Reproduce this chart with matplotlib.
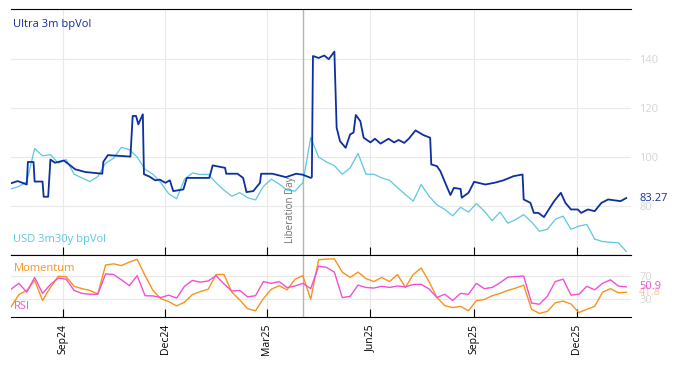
"""
Ultra 3m bpVol vs USD 3m30y bpVol with Momentum / RSI sub-panel.
"""

import matplotlib
import matplotlib.dates as mdates
import matplotlib.pyplot as plt
import pandas as pd

matplotlib.use("Agg")

plt.rcParams["font.family"] = ["Open Sans", "DejaVu Sans"]

# --- Data ---

# Ultra 3m bpVol (step-like series, vertices)
ULTRA_DATES = [
    "2024-07-17", "2024-07-23", "2024-07-27", "2024-07-31", "2024-08-01", "2024-08-06",
    "2024-08-07", "2024-08-14", "2024-08-15", "2024-08-19", "2024-08-21", "2024-08-25",
    "2024-09-02", "2024-09-12", "2024-09-21", "2024-10-06", "2024-10-07", "2024-10-11",
    "2024-10-31", "2024-11-02", "2024-11-05", "2024-11-07", "2024-11-11", "2024-11-12",
    "2024-11-17", "2024-11-22", "2024-11-26", "2024-12-01", "2024-12-05", "2024-12-08",
    "2024-12-17", "2024-12-20", "2025-01-09", "2025-01-12", "2025-01-23", "2025-01-24",
    "2025-02-03", "2025-02-08", "2025-02-11", "2025-02-17", "2025-02-23", "2025-02-24",
    "2025-03-06", "2025-03-12", "2025-03-18", "2025-03-27", "2025-04-02", "2025-04-09",
    "2025-04-10", "2025-04-11", "2025-04-16", "2025-04-21", "2025-04-25", "2025-04-30",
    "2025-05-02", "2025-05-05", "2025-05-10", "2025-05-14", "2025-05-17", "2025-05-19",
    "2025-05-23", "2025-05-26", "2025-06-01", "2025-06-05", "2025-06-10", "2025-06-17",
    "2025-06-22", "2025-06-26", "2025-07-01", "2025-07-05", "2025-07-11", "2025-07-18",
    "2025-07-24", "2025-07-25", "2025-07-30", "2025-08-02", "2025-08-07", "2025-08-11",
    "2025-08-14", "2025-08-20", "2025-08-21", "2025-08-27", "2025-09-01", "2025-09-11",
    "2025-09-19", "2025-09-27", "2025-10-06", "2025-10-14", "2025-10-15", "2025-10-21",
    "2025-10-24", "2025-10-28", "2025-11-02", "2025-11-11", "2025-11-17", "2025-11-21",
    "2025-11-26", "2025-12-02", "2025-12-05", "2025-12-11", "2025-12-17", "2025-12-23",
    "2025-12-29", "2026-01-04", "2026-01-09", "2026-01-14",
]
ULTRA_VOL = [
    89.3, 90.2, 89.5, 88.8, 98.0, 98.0,
    90.0, 90.0, 83.8, 83.8, 99.0, 97.7,
    98.6, 95.0, 93.9, 93.2, 98.1, 100.8,
    100.2, 116.8, 116.8, 113.4, 117.5, 93.0,
    92.0, 90.5, 90.8, 89.5, 90.5, 86.1,
    86.8, 91.5, 91.5, 96.6, 95.6, 93.2,
    93.2, 91.5, 85.7, 86.1, 89.5, 93.2,
    93.2, 92.5, 91.8, 93.2, 92.8, 91.5,
    91.8, 141.3, 140.5, 141.5, 140.0, 143.1,
    112.0, 106.5, 103.8, 109.3, 110.0, 117.2,
    114.7, 107.9, 106.0, 107.5, 105.5, 107.5,
    106.0, 107.0, 105.8, 107.5, 110.9, 109.0,
    107.9, 97.0, 96.3, 94.3, 88.8, 84.5,
    87.4, 87.0, 83.4, 85.4, 89.9, 88.8,
    89.5, 90.5, 92.2, 92.9, 82.7, 81.3,
    77.2, 77.2, 75.5, 82.0, 85.4, 81.3,
    78.6, 78.6, 77.2, 78.6, 77.9, 81.3,
    82.7, 82.3, 82.0, 83.27,
]

# Weekly observations for the other series
WEEK_START = "2024-07-17"
N_WEEKS = 79

USD_VOL = [
    87.0, 88.0, 90.0, 103.5, 100.5, 101.0, 97.5, 99.0, 93.0, 91.5,
    90.0, 92.0, 97.5, 99.5, 104.0, 103.0, 100.0, 95.0, 93.0, 89.5,
    85.0, 83.0, 91.0, 93.5, 92.9, 93.0, 89.5, 86.5, 84.0, 85.5,
    83.4, 82.5, 88.0, 91.0, 89.0, 86.5, 86.1, 89.5, 108.0, 100.0,
    98.0, 96.5, 93.0, 95.6, 101.5, 93.0, 93.0, 91.5, 90.5, 87.5,
    84.7, 82.0, 88.8, 84.0, 80.5, 78.6, 76.0, 79.5, 77.5, 81.0,
    78.0, 74.0, 77.5, 73.0, 74.5, 76.5, 73.5, 69.7, 70.5, 74.5,
    75.9, 70.5, 71.8, 72.5, 66.5, 65.5, 65.2, 65.0, 61.5,
]
MOMENTUM = [
    17, 38, 45, 62, 28, 50, 69, 68, 52, 48,
    45, 39, 88, 90, 87, 93, 97.6, 70, 45, 31,
    26, 18.8, 25, 38, 43, 47, 72, 72, 42, 29,
    14, 10.5, 31, 47, 53, 46, 63.8, 70, 30, 97,
    98, 98.5, 76, 67, 76, 65, 60, 67, 60, 72,
    50, 72, 83, 60, 33, 19, 16, 18, 10.5, 27.5,
    29.5, 36, 40, 45, 49, 54, 13, 6, 9.5, 24,
    27, 22, 7.5, 13, 18, 42, 48, 41, 41.8,
]
RSI = [
    47, 57, 42, 67, 40, 55, 66, 64, 45, 40,
    38.5, 38.5, 73, 72, 63, 53, 70, 36, 35.7, 33,
    37, 32, 52, 62, 59, 61, 70, 56, 44, 45,
    34, 36, 60, 57, 60, 49.7, 52.5, 57, 48, 86,
    84, 76, 32.8, 35, 54, 50, 49, 52, 50, 52.5,
    51, 55, 55.4, 47.5, 33, 38.5, 28, 40, 38.5, 57,
    48, 50, 58, 67.5, 68.5, 69.4, 23.5, 21.6, 35, 60,
    64, 37, 38.5, 52, 46, 57, 63, 52.5, 50.9,
]

LIBERATION_DAY = "2025-04-02"
X_START, X_END = "2024-07-17", "2026-01-18"

# --- Colours ---
C_ULTRA = "#0d2f9f"
C_USD = "#5bc8e0"
C_MOM = "#f7931e"
C_RSI = "#f24fd6"
C_TICK = "#d4d4d4"
C_GRID = "#e8e8e8"

ultra_dates = pd.to_datetime(ULTRA_DATES)
weeks = pd.date_range(WEEK_START, periods=N_WEEKS, freq="7D")
lib_day = pd.Timestamp(LIBERATION_DAY)

fig = plt.figure(figsize=(6.74, 3.66), dpi=100)
ax = fig.add_axes([0.0163, 0.3033, 0.9195, 0.6721])
ax2 = fig.add_axes([0.0163, 0.1339, 0.9195, 0.1694], sharex=ax)

# --- Top panel: vols ---
ax.plot(weeks, USD_VOL, color=C_USD, lw=0.9, zorder=2)
ax.plot(ultra_dates, ULTRA_VOL, color=C_ULTRA, lw=1.3, zorder=3)
ax.set_ylim(60, 160.5)
ax.set_yticks([80, 100, 120, 140])

ax.text(0.004, 0.935, "Ultra 3m bpVol", color=C_ULTRA, fontsize=8,
        transform=ax.transAxes, va="center", ha="left")
ax.text(0.004, 0.061, "USD 3m30y bpVol", color=C_USD, fontsize=8,
        transform=ax.transAxes, va="center", ha="left")
ax.annotate(f"{ULTRA_VOL[-1]:.2f}", xy=(1, ULTRA_VOL[-1]),
            xycoords=("axes fraction", "data"), xytext=(6, 0),
            textcoords="offset points", color=C_ULTRA, fontsize=8, va="center")

ax.axvline(lib_day, color="#b5b5b5", lw=1, zorder=1)
ax.text(lib_day - pd.Timedelta(days=11), 60.0 + 4.8, "Liberation Day",
        rotation=90, color="#707070", fontsize=7, ha="center", va="bottom")

# --- Bottom panel: momentum / RSI ---
ax2.plot(weeks, MOMENTUM, color=C_MOM, lw=1.0, zorder=2)
ax2.plot(weeks, RSI, color=C_RSI, lw=1.0, zorder=3)
ax2.set_ylim(0, 105)
ax2.set_yticks([30, 70])
ax2.axvline(lib_day, color="#b5b5b5", lw=1, zorder=1)

ax2.text(0.004, 0.79, "Momentum", color=C_MOM, fontsize=8,
         transform=ax2.transAxes, va="center", ha="left")
ax2.text(0.004, 0.177, "RSI", color=C_RSI, fontsize=8,
         transform=ax2.transAxes, va="center", ha="left")
ax2.annotate(f"{RSI[-1]:.1f}", xy=(1, RSI[-1]), xycoords=("axes fraction", "data"),
             xytext=(6, 0), textcoords="offset points", color=C_RSI,
             fontsize=8, va="center", zorder=5)
ax2.annotate(f"{MOMENTUM[-1]:.1f}", xy=(1, MOMENTUM[-1]),
             xycoords=("axes fraction", "data"), xytext=(6, 0),
             textcoords="offset points", color="#f8c898", fontsize=8, va="center")

# --- Shared styling ---
for a in (ax, ax2):
    a.set_xlim(pd.Timestamp(X_START), pd.Timestamp(X_END))
    a.grid(True, color=C_GRID, lw=0.8)
    a.set_axisbelow(True)
    a.spines["left"].set_visible(False)
    a.spines["right"].set_visible(False)
    a.spines["top"].set_color("black")
    a.spines["bottom"].set_color("black")
    a.yaxis.tick_right()
    a.tick_params(axis="y", length=0, pad=6, labelcolor=C_TICK, labelsize=8)
    a.tick_params(axis="x", direction="in", length=6, color="black")

ax2.xaxis.set_major_locator(mdates.MonthLocator(bymonth=[3, 6, 9, 12]))
ax2.xaxis.set_major_formatter(mdates.DateFormatter("%b%y"))
ax.tick_params(axis="x", labelbottom=False)
ax2.tick_params(axis="x", labelsize=7.5, labelrotation=90, pad=5)

fig.savefig("out.png", dpi=100)
